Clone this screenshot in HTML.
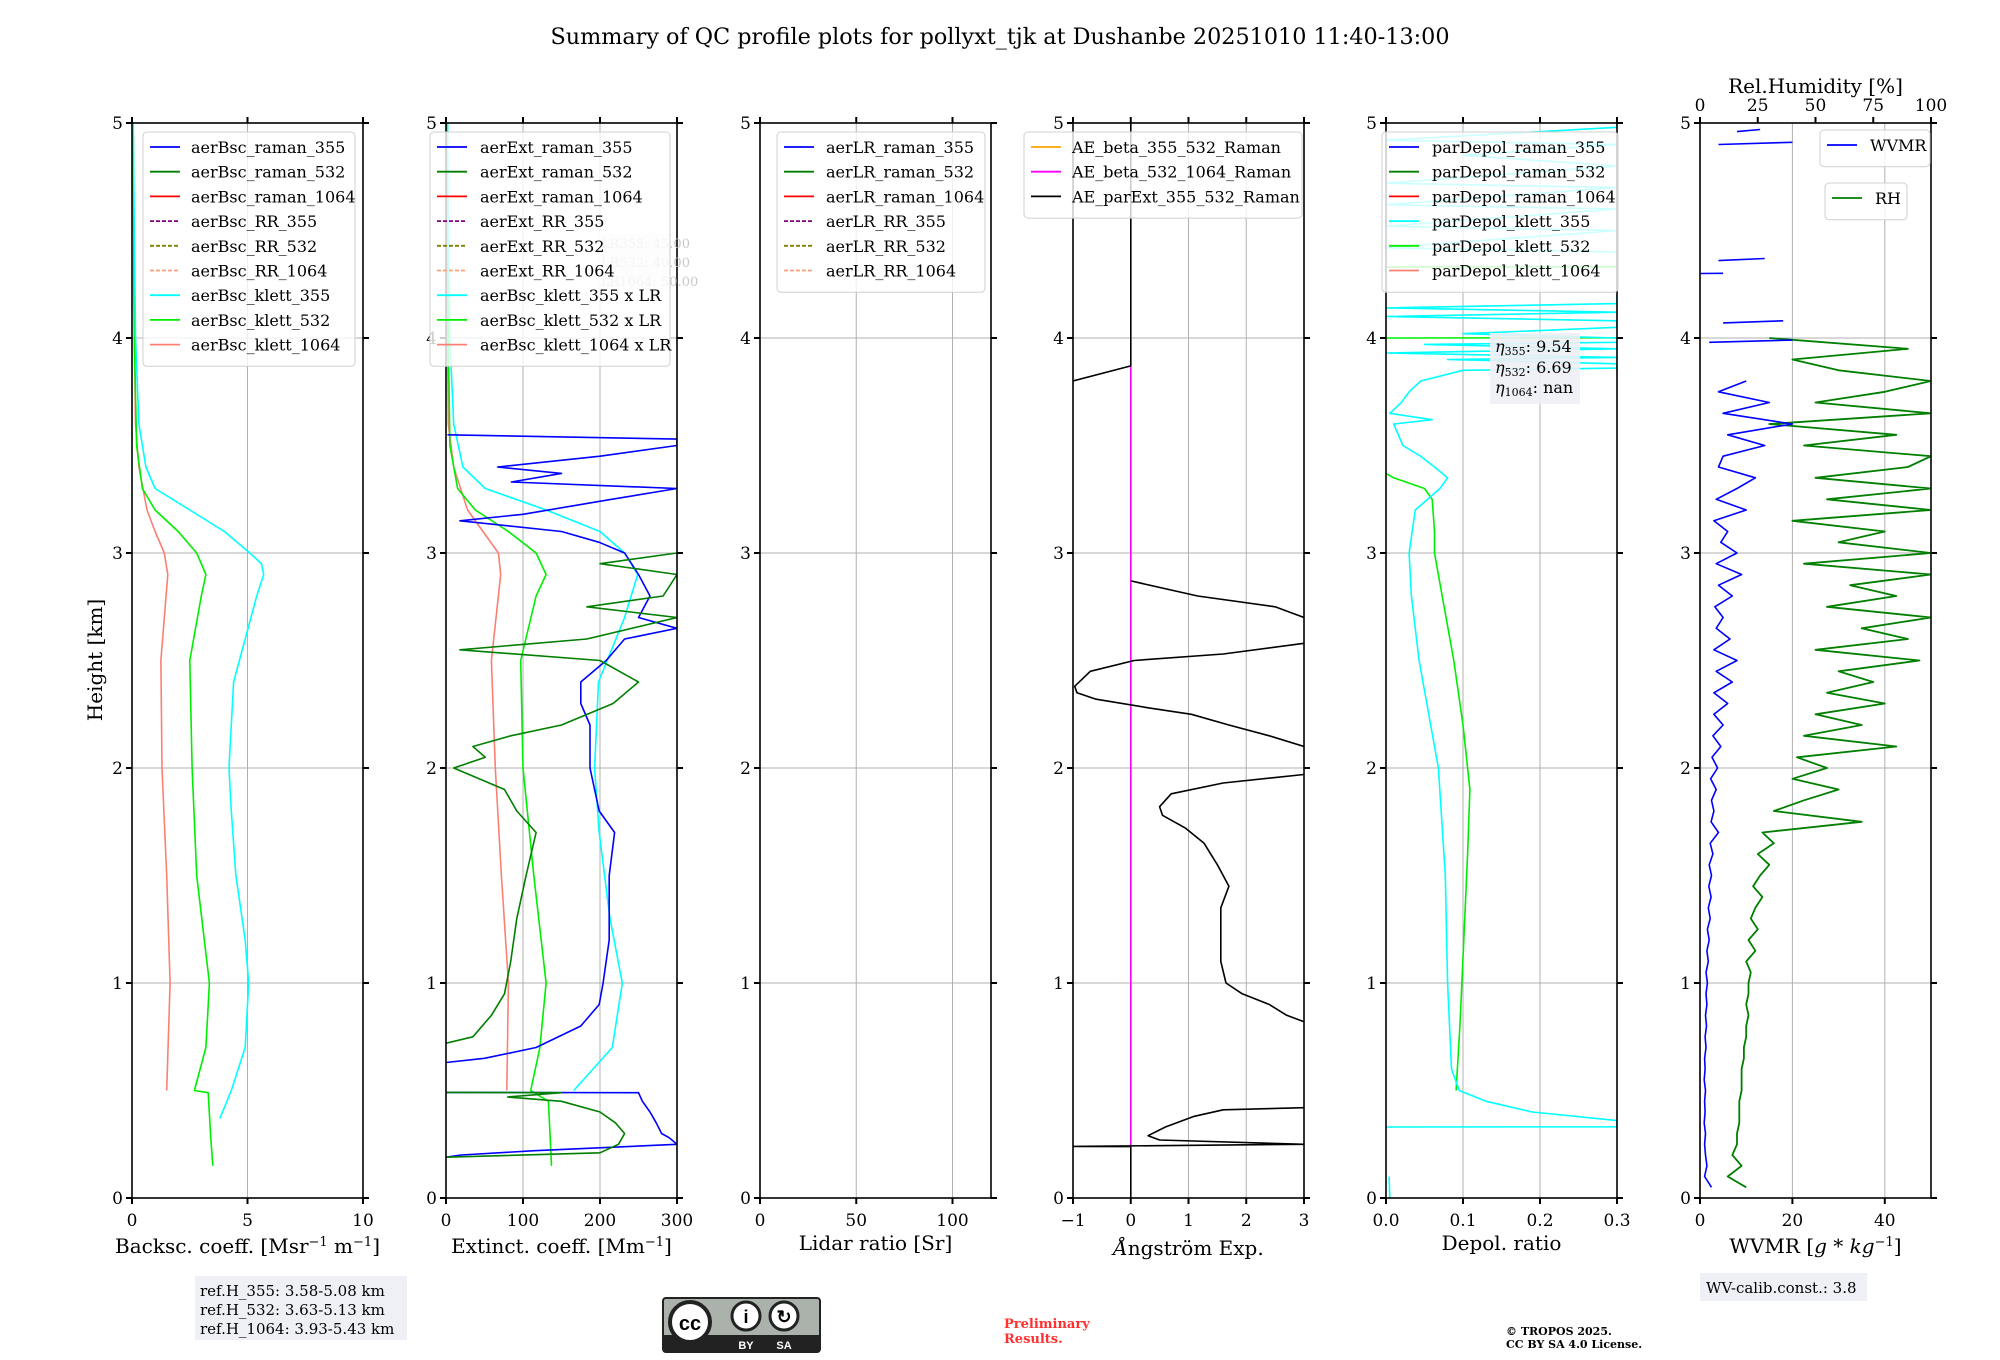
<!DOCTYPE html>
<html><head><meta charset="utf-8"><style>
html,body{margin:0;padding:0;background:#fff;}
svg{display:block;font-family:"DejaVu Serif","Liberation Serif",serif;}
</style></head><body>
<svg id="fig" width="2000" height="1360" viewBox="0 0 2000 1360" xmlns="http://www.w3.org/2000/svg">
<rect width="2000" height="1360" fill="#fff"/>
<text x="1000" y="44" font-size="22.3" text-anchor="middle">Summary of QC profile plots for pollyxt_tjk at Dushanbe 20251010 11:40-13:00</text>
<text transform="translate(102,660) rotate(-90)" font-size="20" text-anchor="middle">Height [km]</text>
<g id="panels"></g>
<g id="extras">
<rect x="195" y="1276" width="212" height="64" fill="#eef0f5"/>
<text x="200" y="1296" font-size="15">ref.H_355: 3.58-5.08 km</text>
<text x="200" y="1315" font-size="15">ref.H_532: 3.63-5.13 km</text>
<text x="200" y="1334" font-size="15">ref.H_1064: 3.93-5.43 km</text>
<g transform="translate(-1,-6)">
<rect x="664" y="1304" width="157" height="54" rx="3" fill="#aab2ab" stroke="#222" stroke-width="2"/>
<rect x="665" y="1341" width="155" height="16" fill="#222"/>
<circle cx="691" cy="1328" r="20" fill="#fff" stroke="#222" stroke-width="4"/>
<text x="691" y="1336" font-size="20" font-weight="bold" text-anchor="middle" font-family="Liberation Sans,sans-serif">cc</text>
<circle cx="747" cy="1322" r="14" fill="#fff" stroke="#222" stroke-width="3"/>
<text x="747" y="1329" font-size="18" font-weight="bold" text-anchor="middle" font-family="Liberation Sans,sans-serif">i</text>
<circle cx="785" cy="1322" r="14" fill="#fff" stroke="#222" stroke-width="3"/>
<text x="785" y="1329" font-size="18" font-weight="bold" text-anchor="middle" font-family="Liberation Sans,sans-serif">↻</text>
<text x="747" y="1355" font-size="11" fill="#fff" font-weight="bold" text-anchor="middle" font-family="Liberation Sans,sans-serif">BY</text>
<text x="785" y="1355" font-size="11" fill="#fff" font-weight="bold" text-anchor="middle" font-family="Liberation Sans,sans-serif">SA</text>
</g>
<text x="1004" y="1328" font-size="13" font-weight="bold" fill="#ff3030">Preliminary</text>
<text x="1004" y="1343" font-size="13" font-weight="bold" fill="#ff3030">Results.</text>
<text x="1506" y="1335" font-size="11" font-weight="bold">© TROPOS 2025.</text>
<text x="1506" y="1348" font-size="11" font-weight="bold">CC BY SA 4.0 License.</text>
<rect x="1700" y="1273" width="167" height="28" fill="#eef0f5"/>
<text x="1706" y="1293" font-size="15">WV-calib.const.: 3.8</text>
</g>
</svg>
<script>
// ---------- data ----------
const panelNames = ['backscatter','extinction','lidar-ratio','angstrom','depol','wvmr'];
const xMin = [0,0,0,-1,0,0];
const xMax = [10,300,120,3,0.3,50];
const xTickVals = [[0,5,10],[0,100,200,300],[0,50,100],[-1,0,1,2,3],[0,0.1,0.2,0.3],[0,20,40]];
const xTickLabels = [['0','5','10'],['0','100','200','300'],['0','50','100'],['\u22121','0','1','2','3'],['0.0','0.1','0.2','0.3'],['0','20','40']];
const yTickVals = [0,1,2,3,4,5];
const rhTickVals = [0,25,50,75,100];

// Panel 1
const bsc355H = [0.37,0.5,0.7,1.0,1.2,1.5,1.8,2.0,2.2,2.4,2.6,2.8,2.9,2.95,3.0,3.1,3.2,3.3,3.4,3.6,4.0,4.5,5.0];
const bsc355V = [3.8,4.3,4.9,5.05,4.9,4.5,4.3,4.2,4.3,4.4,4.9,5.4,5.7,5.6,5.1,4.0,2.5,1.0,0.6,0.3,0.15,0.1,0.05];
const bsc532H = [0.15,0.3,0.49,0.5,0.7,1.0,1.5,2.0,2.5,2.8,2.9,3.0,3.1,3.2,3.3,3.5,4.0,5.0];
const bsc532V = [3.5,3.4,3.3,2.7,3.2,3.35,2.8,2.6,2.5,3.0,3.2,2.8,2.0,1.0,0.45,0.2,0.1,0.05];
const bsc1064H = [0.5,1.0,1.5,2.0,2.5,2.9,3.0,3.1,3.2,3.4,3.6,4.0,5.0];
const bsc1064V = [1.5,1.65,1.5,1.3,1.25,1.55,1.4,1.0,0.65,0.3,0.15,0.1,0.05];
// Panel 2
const ext355H = [0.19,0.2,0.22,0.25,0.28,0.3,0.35,0.4,0.45,0.49,0.491,null,0.63,0.65,0.7,0.8,0.9,1.0,1.2,1.5,1.7,1.8,2.0,2.2,2.3,2.4,2.5,2.6,2.65,2.7,2.8,2.9,3.0,3.05,3.1,3.15,3.18,3.25,3.3,3.33,3.37,3.4,3.45,3.5,3.53,3.55];
const ext355V = [0,20,115,300,290,280,273,265,255,250,0,null,0,50,117,175,199,204,212,212,219,199,187,187,175,175,208,232,300,250,265,250,232,199,150,18,100,215,300,85,150,67,200,300,300,2];
const ext532H = [0.19,0.21,0.25,0.3,0.35,0.4,0.45,0.47,0.49,0.491,null,0.72,0.75,0.85,0.95,1.1,1.3,1.5,1.7,1.8,1.9,2.0,2.05,2.1,2.15,2.2,2.3,2.4,2.5,2.55,2.6,2.7,2.75,2.8,2.9,2.95,3.0];
const ext532V = [0,200,224,232,220,200,150,80,150,0,null,0,35,59,76,84,92,104,117,92,76,10,51,35,84,150,217,250,200,18,183,300,183,282,300,200,300];
const extK355H = [0.5,0.7,1.0,1.3,1.7,2.0,2.4,2.7,2.9,3.0,3.1,3.2,3.3,3.4,3.6,4.0,4.5,5.0];
const extK355V = [166,216,229,213,199,193,198,232,249,232,200,130,51,22,10,5,3,2];
const extK532H = [0.15,0.3,0.45,0.5,0.7,1.0,1.5,2.0,2.5,2.8,2.9,3.0,3.1,3.2,3.3,3.5,4.0,5.0];
const extK532V = [137,135,133,110,122,130,114,100,97,117,130,117,81,38,15,5,3,2];
const extK1064H = [0.5,1.0,1.5,2.0,2.5,2.9,3.0,3.1,3.2,3.4,3.6,4.0,5.0];
const extK1064V = [79,81,72,64,59,71,68,48,28,10,3,2,1];
// Panel 4
const aeParH = [5,3.87,3.8,null,2.87,2.8,2.75,2.7,null,2.58,2.53,2.5,2.45,2.38,2.35,2.32,2.28,2.25,2.2,2.15,2.1,null,1.97,1.93,1.88,1.82,1.78,1.72,1.65,1.55,1.45,1.35,1.2,1.1,1.0,0.95,0.9,0.85,0.82,null,0.42,0.41,0.38,0.33,0.29,0.27,0.25,0.24,0.239,0];
const aeParV = [0,0,-1,null,0,1.16,2.5,3,null,3,1.6,0.06,-0.7,-0.97,-0.93,-0.6,0.3,1.05,1.7,2.4,3,null,3,1.6,0.7,0.5,0.55,0.95,1.27,1.5,1.7,1.56,1.56,1.56,1.65,1.93,2.4,2.7,3,null,3,1.6,1.1,0.6,0.3,0.5,3,-1,0,0];
const aeBetaH = [3.87,0.24];
const aeBetaV = [0,0];
// Panel 5
const dep355H = [0,0.1,null,0.33,0.331,0.36,0.4,0.45,0.5,0.6,1.0,1.5,2.0,2.5,2.8,3.0,3.2,3.3,3.35,3.4,3.45,3.5,3.6,3.62,3.65,3.7,3.75,3.8,3.85,3.86,3.88,3.9,3.91,3.93,3.95,3.97,3.98,4.0,4.02,4.05,4.08,4.1,4.12,4.14,4.16,4.2,null,4.4,4.42,4.5,4.52,4.6,4.62,4.7,4.72,4.8,4.85,4.9,4.92,4.98,5.0];
const dep355V = [0.005,0.004,null,0,0.3,0.3,0.19,0.13,0.095,0.085,0.08,0.077,0.068,0.043,0.033,0.03,0.038,0.07,0.08,0.063,0.045,0.022,0.01,0.06,0.005,0.02,0.03,0.045,0.1,0.3,0.3,0.08,0.3,0,0.3,0.05,0.3,0.3,0.1,0.3,0.3,0,0.3,0,0.3,0.3,null,0.3,0,0.3,0,0.3,0,0.3,0,0.3,0.1,0.3,0,0.3,0.3];
const dep532H = [0.5,0.8,1.2,1.6,1.9,2.2,2.5,2.8,3.0,3.1,3.25,3.3,3.35,3.37,null,4.0,4.001,null,4.33,4.331];
const dep532V = [0.091,0.096,0.101,0.106,0.109,0.1,0.088,0.073,0.063,0.063,0.06,0.05,0.01,0,null,0,0.3,null,0,0.3];
// Panel 6
const wvH = [0.05,0.1,0.15,0.2,0.25,0.3,0.35,0.4,0.45,0.5,0.55,0.6,0.65,0.7,0.75,0.8,0.85,0.9,0.95,1.0,1.05,1.1,1.15,1.2,1.25,1.3,1.35,1.4,1.45,1.5,1.55,1.6,1.65,1.7,1.75,1.8,1.85,1.9,1.95,2.0,2.05,2.1,2.15,2.2,2.25,2.3,2.35,2.4,2.45,2.5,2.55,2.6,2.65,2.7,2.75,2.8,2.85,2.9,2.95,3.0,3.05,3.1,3.15,3.2,3.25,3.3,3.35,3.4,3.45,3.5,3.55,3.6,3.65,3.7,3.75,3.8,null,3.98,3.99,null,4.07,4.08,null,4.3,4.301,null,4.36,4.37,null,4.9,4.91,null,4.96,4.97];
const wvV = [2.5,1.0,1.5,1.2,1.0,1.2,0.9,1.1,1.0,1.2,0.9,1.1,1.0,1.3,1.1,1.4,1.2,1.5,1.3,1.6,1.3,1.8,1.5,2.0,1.6,2.2,1.8,2.4,1.9,2.5,2.0,2.8,2.2,4.0,2.4,3.0,2.5,3.5,2.3,3.8,2.6,4.5,2.8,5.0,3.0,6.0,3.0,7.0,3.5,8.0,3.0,6.5,3.5,5.0,3.2,7.0,4.0,9.0,3.5,8.0,4.5,6.0,3.0,10.0,3.5,8.0,12.0,4.0,5.0,14.0,6.0,20.0,5.0,15.0,4.0,10.0,null,2,20,null,5,18,null,0,5,null,4,14,null,4,20,null,8,13];
const rhH = [0.05,0.1,0.15,0.2,0.25,0.3,0.35,0.4,0.45,0.5,0.55,0.6,0.65,0.7,0.75,0.8,0.85,0.9,0.95,1.0,1.05,1.1,1.15,1.2,1.25,1.3,1.35,1.4,1.45,1.5,1.55,1.6,1.65,1.7,1.75,1.8,1.85,1.9,1.95,2.0,2.05,2.1,2.15,2.2,2.25,2.3,2.35,2.4,2.45,2.5,2.55,2.6,2.65,2.7,2.75,2.8,2.85,2.9,2.95,3.0,3.05,3.1,3.15,3.2,3.25,3.3,3.35,3.4,3.45,3.5,3.55,3.6,3.65,3.7,3.75,3.8,3.85,3.9,3.95,4.0,null,4.3,4.301,null,4.88,4.881];
const rhV = [20,12,18,14,16,16,17,17,17,18,18,18,19,19,20,20,21,20,21,21,22,20,24,21,25,22,24,27,23,26,30,25,32,27,70,32,45,60,40,55,42,85,45,70,50,80,55,75,60,95,50,90,70,100,55,85,65,100,45,100,60,80,40,100,55,100,50,90,100,45,85,30,100,50,80,100,60,40,90,30,100,null,0,100,null,42,100];

// ---------- layout ----------
const X0 = [132,446,760,1073,1386,1700];
const PW = 231, TOP = 123, BOT = 1198;
const NS = 'http://www.w3.org/2000/svg';
const root = document.getElementById('panels');
function el(tag, attrs, parent){ const e=document.createElementNS(NS,tag); for(const k in attrs) e.setAttribute(k,attrs[k]); (parent||root).appendChild(e); return e; }
function sx(p,v){ return X0[p] + (v-xMin[p])/(xMax[p]-xMin[p])*PW; }
function sy(h){ return BOT - h/5*(BOT-TOP); }
function rhX(v){ return X0[5] + v/100*PW; }
function pathD(H,V,fx){ let d='',pen=false; for(let i=0;i<H.length;i++){ if(H[i]===null||V[i]===null){pen=false;continue;} d+=(pen?'L':'M')+fx(V[i]).toFixed(1)+' '+sy(H[i]).toFixed(1)+' '; pen=true;} return d; }

const defs = el('defs',{});
for(let p=0;p<6;p++){
  const cp = el('clipPath',{id:'clip'+p},defs);
  el('rect',{x:X0[p],y:TOP,width:PW,height:BOT-TOP},cp);
}

const panelGroups=[];
for(let p=0;p<6;p++){
  const g = el('g',{});
  
  
  panelGroups.push(g);
  xTickVals[p].forEach(v=>{ const x=sx(p,v); const l=el('line',{x1:x,x2:x,y1:TOP,y2:BOT,stroke:'#b0b0b0','stroke-width':1},g);
    
     });
  yTickVals.forEach(v=>{ const y=sy(v); const l=el('line',{x1:X0[p],x2:X0[p]+PW,y1:y,y2:y,stroke:'#b0b0b0','stroke-width':1},g);
    
     });
}

function addSeries(p,H,V,color,name,w,fx){
  const path = el('path',{d:pathD(H,V,fx||(v=>sx(p,v))),fill:'none',stroke:color,'stroke-width':w||1.6,'clip-path':'url(#clip'+p+')','stroke-linejoin':'round'},panelGroups[p]);
  
  
}
addSeries(0,bsc1064H,bsc1064V,'#fa8072','bsc-klett-1064-line');
addSeries(0,bsc532H,bsc532V,'#00ee00','bsc-klett-532-line');
addSeries(0,bsc355H,bsc355V,'#00ffff','bsc-klett-355-line');
addSeries(1,extK1064H,extK1064V,'#fa8072','ext-klett-1064-line');
addSeries(1,extK532H,extK532V,'#00ee00','ext-klett-532-line');
addSeries(1,extK355H,extK355V,'#00ffff','ext-klett-355-line');
addSeries(1,ext355H,ext355V,'#0000ff','ext-raman-355-line');
addSeries(1,ext532H,ext532V,'#007f00','ext-raman-532-line');
addSeries(3,aeBetaH,aeBetaV,'#ff00ff','ae-beta-532-1064-line');
addSeries(3,aeParH,aeParV,'#000000','ae-parext-355-532-line');
addSeries(4,dep532H,dep532V,'#00ee00','depol-klett-532-line');
addSeries(4,dep355H,dep355V,'#00ffff','depol-klett-355-line');
addSeries(5,rhH,rhV,'#007f00','rh-line',1.8,rhX);
addSeries(5,wvH,wvV,'#0000ff','wvmr-line',1.6);

for(let p=0;p<6;p++){
  const g=panelGroups[p];
  const fr=el('rect',{x:X0[p],y:TOP,width:PW,height:BOT-TOP,fill:'none',stroke:'#000','stroke-width':1.6},g);
  
  
  xTickVals[p].forEach((v,i)=>{ const x=sx(p,v);
    el('line',{x1:x,x2:x,y1:BOT,y2:BOT+6,stroke:'#000','stroke-width':2},g);
    if(p!==5) el('line',{x1:x,x2:x,y1:TOP,y2:TOP-6,stroke:'#000','stroke-width':2},g);
    const t=el('text',{x:x,y:BOT+28,'font-size':17,'text-anchor':'middle'},g); t.textContent=xTickLabels[p][i];
    
     });
  yTickVals.forEach(v=>{ const y=sy(v);
    el('line',{x1:X0[p]-6,x2:X0[p],y1:y,y2:y,stroke:'#000','stroke-width':2},g);
    el('line',{x1:X0[p]+PW,x2:X0[p]+PW+6,y1:y,y2:y,stroke:'#000','stroke-width':2},g);
    const t=el('text',{x:X0[p]-9,y:y+6,'font-size':17,'text-anchor':'end'},g); t.textContent=String(v);
    
     });
}
rhTickVals.forEach(v=>{ const x=rhX(v);
  el('line',{x1:x,x2:x,y1:TOP,y2:TOP-6,stroke:'#000','stroke-width':2},panelGroups[5]);
  const t=el('text',{x:x,y:TOP-12,'font-size':17,'text-anchor':'middle'},panelGroups[5]); t.textContent=String(v);
  
   });
const rht=el('text',{x:X0[5]+PW/2,y:93,'font-size':20,'text-anchor':'middle'},panelGroups[5]); rht.textContent='Rel.Humidity [%]';



const xTitles=['Backsc. coeff. [Msr<tspan dy="-7" font-size="13">\u22121</tspan><tspan dy="7"> m</tspan><tspan dy="-7" font-size="13">\u22121</tspan><tspan dy="7">]</tspan>',
 'Extinct. coeff. [Mm<tspan dy="-7" font-size="13">\u22121</tspan><tspan dy="7">]</tspan>','Lidar ratio [Sr]','<tspan font-style="italic">Å</tspan>ngström Exp.','Depol. ratio',
 'WVMR [<tspan font-style="italic">g</tspan> * <tspan font-style="italic">kg</tspan><tspan dy="-7" font-size="13">\u22121</tspan><tspan dy="7">]</tspan>'];
const xTitleY=[1253,1253,1250,1255,1250,1253];
for(let p=0;p<6;p++){
  const t=el('text',{x:X0[p]+PW/2,y:xTitleY[p],'font-size':20,'text-anchor':'middle'},panelGroups[p]);
  t.innerHTML=xTitles[p];
  
  
}

function legend(p,x,y,w,entries,textX){
  const g=el('g',{},panelGroups[p]);
  
  
  el('rect',{x:x,y:y,width:w,height:entries.length*24.7+12,rx:4,fill:'#fff','fill-opacity':0.8,stroke:'#d0d0d0'},g);
  entries.forEach((e,i)=>{ const yy=y+15+i*24.7;
    const ln=el('line',{x1:x+7,x2:x+37,y1:yy,y2:yy,stroke:e[1],'stroke-width':1.8},g);
    if(e[2]) ln.setAttribute('stroke-dasharray','4 2');
    const t=el('text',{x:x+textX,y:yy+6,'font-size':16},g); t.textContent=e[0];
    
     });
}
const cols=['#0000ff','#007f00','#ff0000','#800080','#808000','#ffa07a','#00ffff','#00ee00','#fa8072'];
legend(0,143,132,212,[['aerBsc_raman_355',cols[0]],['aerBsc_raman_532',cols[1]],['aerBsc_raman_1064',cols[2]],['aerBsc_RR_355',cols[3],1],['aerBsc_RR_532',cols[4],1],['aerBsc_RR_1064',cols[5],1],['aerBsc_klett_355',cols[6]],['aerBsc_klett_532',cols[7]],['aerBsc_klett_1064',cols[8]]],48);
const lrg=el('g',{'font-size':13,fill:'#c8c8c8'},panelGroups[1]);
el('rect',{x:598,y:233,width:73,height:56,fill:'#f2f3f7'},lrg);
[['LR355: 45.00',248],['LR532: 40.00',267],['LR1064: 50.00',286]].forEach(a=>{const t=el('text',{x:601,y:a[1]},lrg); t.textContent=a[0];
  
  });
legend(1,430,132,240,[['aerExt_raman_355',cols[0]],['aerExt_raman_532',cols[1]],['aerExt_raman_1064',cols[2]],['aerExt_RR_355',cols[3],1],['aerExt_RR_532',cols[4],1],['aerExt_RR_1064',cols[5],1],['aerBsc_klett_355 x LR',cols[6]],['aerBsc_klett_532 x LR',cols[7]],['aerBsc_klett_1064 x LR',cols[8]]],50);
legend(2,777,132,208,[['aerLR_raman_355',cols[0]],['aerLR_raman_532',cols[1]],['aerLR_raman_1064',cols[2]],['aerLR_RR_355',cols[3],1],['aerLR_RR_532',cols[4],1],['aerLR_RR_1064',cols[5],1]],49);
legend(3,1024,132,278,[['AE_beta_355_532_Raman','#ffa500'],['AE_beta_532_1064_Raman','#ff00ff'],['AE_parExt_355_532_Raman','#000000']],48);
legend(4,1382,132,236,[['parDepol_raman_355',cols[0]],['parDepol_raman_532',cols[1]],['parDepol_raman_1064',cols[2]],['parDepol_klett_355',cols[6]],['parDepol_klett_532',cols[7]],['parDepol_klett_1064',cols[8]]],50);
legend(5,1820,130,110,[['WVMR','#0000ff']],50);
legend(5,1825,183,82,[['RH','#007f00']],50);
const eg=el('g',{'font-size':16},panelGroups[4]);


el('rect',{x:1490,y:333,width:90,height:71,fill:'#eef0f5','fill-opacity':0.9},eg);
[['355','9.54',352],['532','6.69',373],['1064','nan',393]].forEach(a=>{const t=el('text',{x:1495,y:a[2]},eg);
  t.innerHTML='<tspan font-style="italic">η</tspan><tspan font-size="11" dy="3">'+a[0]+'</tspan><tspan dy="-3">: '+a[1]+'</tspan>';
  
  });
</script>
</body></html>
